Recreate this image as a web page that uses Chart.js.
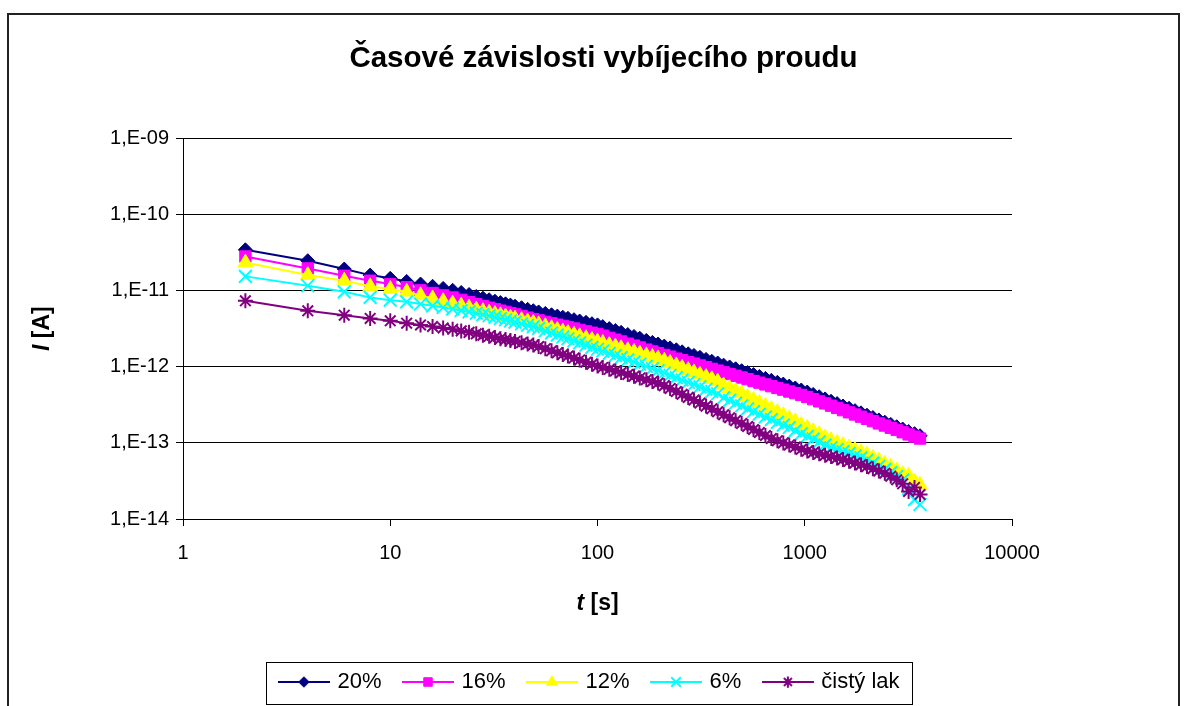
<!DOCTYPE html>
<html>
<head>
<meta charset="utf-8">
<script src="https://cdn.jsdelivr.net/npm/chart.js@4.4.1/dist/chart.umd.min.js"></script>
<style>
    html, body { margin: 0; padding: 0; background: #fff; }
    #wrap { width: 1191px; height: 706px; }
</style>
</head>
<body>
<div id="wrap"><canvas id="chart" width="1191" height="706"></canvas></div>
<script>
const chartTitle = 'Časové závislosti vybíjecího proudu';
const xTitle = ['t', ' [s]'];
const yTitle = ['I', ' [A]'];
const seriesNames = ['20%', '16%', '12%', '6%', 'čistý lak'];

const xTickValues = [1, 10, 100, 1000, 10000];
const xTickLabels = ['1', '10', '100', '1000', '10000'];
const yTickValues = [1e-14, 1e-13, 1e-12, 1e-11, 1e-10, 1e-9];
const yTickLabels = ['1,E-14', '1,E-13', '1,E-12', '1,E-11', '1,E-10', '1,E-09'];

// t [s]
const timeValues = [
    2, 4, 6, 8, 10, 12, 14, 16, 18, 20, 22, 24, 26, 28, 30, 32, 34, 36, 38, 40,
    43, 46, 49, 52, 56, 60, 64, 68, 72, 77, 82, 88, 94, 100,
    106, 114, 122, 130, 140, 150, 160, 172, 184, 196,
    210, 224, 240, 256, 274, 292, 312, 334, 356, 380,
    406, 434, 464, 496, 530, 566, 604, 646, 690, 738,
    788, 842, 900, 962, 1028, 1098, 1174, 1254, 1340, 1432,
    1530, 1636, 1748, 1868, 1996, 2132, 2278, 2434, 2600, 2778,
    2968, 3170, 3386, 3600
];

// I [A]
const current20 = [
    3.44e-11, 2.47e-11, 1.92e-11, 1.60e-11, 1.45e-11, 1.32e-11, 1.22e-11, 1.14e-11, 1.07e-11, 1.01e-11,
    9.46e-12, 8.89e-12, 8.39e-12, 7.96e-12, 7.59e-12, 7.26e-12, 6.97e-12, 6.71e-12, 6.46e-12, 6.25e-12,
    5.96e-12, 5.68e-12, 5.45e-12, 5.25e-12, 5.02e-12, 4.82e-12, 4.63e-12, 4.47e-12, 4.33e-12, 4.15e-12, 3.99e-12, 3.83e-12, 3.68e-12, 3.55e-12,
    3.37e-12, 3.17e-12, 2.99e-12, 2.83e-12, 2.65e-12, 2.50e-12, 2.37e-12, 2.22e-12, 2.09e-12, 1.99e-12,
    1.87e-12, 1.77e-12, 1.67e-12, 1.57e-12, 1.48e-12, 1.41e-12, 1.33e-12, 1.25e-12, 1.18e-12, 1.12e-12,
    1.05e-12, 9.95e-13, 9.40e-13, 8.87e-13, 8.38e-13, 7.89e-13, 7.46e-13, 7.03e-13, 6.64e-13, 6.25e-13,
    5.92e-13, 5.57e-13, 5.26e-13, 4.95e-13, 4.65e-13, 4.33e-13, 4.04e-13, 3.78e-13, 3.52e-13, 3.28e-13,
    3.05e-13, 2.85e-13, 2.65e-13, 2.48e-13, 2.31e-13, 2.15e-13, 2.00e-13, 1.87e-13, 1.75e-13, 1.63e-13,
    1.52e-13, 1.41e-13, 1.32e-13, 1.24e-13
];
const current16 = [
    2.81e-11, 1.96e-11, 1.57e-11, 1.35e-11, 1.22e-11, 1.11e-11, 1.01e-11, 9.31e-12, 8.67e-12, 8.13e-12,
    7.57e-12, 7.06e-12, 6.64e-12, 6.28e-12, 5.96e-12, 5.69e-12, 5.46e-12, 5.25e-12, 5.05e-12, 4.88e-12,
    4.65e-12, 4.42e-12, 4.23e-12, 4.07e-12, 3.89e-12, 3.72e-12, 3.57e-12, 3.44e-12, 3.32e-12, 3.18e-12, 3.05e-12, 2.92e-12, 2.80e-12, 2.69e-12,
    2.56e-12, 2.40e-12, 2.27e-12, 2.15e-12, 2.01e-12, 1.90e-12, 1.79e-12, 1.68e-12, 1.59e-12, 1.51e-12,
    1.43e-12, 1.36e-12, 1.28e-12, 1.22e-12, 1.15e-12, 1.10e-12, 1.04e-12, 9.86e-13, 9.38e-13, 8.91e-13,
    8.45e-13, 8.02e-13, 7.62e-13, 7.23e-13, 6.87e-13, 6.50e-13, 6.18e-13, 5.86e-13, 5.56e-13, 5.26e-13,
    5.00e-13, 4.73e-13, 4.50e-13, 4.26e-13, 4.01e-13, 3.75e-13, 3.51e-13, 3.30e-13, 3.08e-13, 2.88e-13,
    2.69e-13, 2.52e-13, 2.36e-13, 2.21e-13, 2.07e-13, 1.93e-13, 1.80e-13, 1.69e-13, 1.58e-13, 1.48e-13,
    1.38e-13, 1.29e-13, 1.21e-13, 1.14e-13
];
const current12 = [
    2.34e-11, 1.60e-11, 1.35e-11, 1.14e-11, 1.05e-11, 9.64e-12, 8.67e-12, 7.89e-12, 7.28e-12, 6.76e-12,
    6.34e-12, 5.97e-12, 5.65e-12, 5.37e-12, 5.13e-12, 4.92e-12, 4.74e-12, 4.57e-12, 4.42e-12, 4.28e-12,
    4.09e-12, 3.92e-12, 3.77e-12, 3.60e-12, 3.40e-12, 3.21e-12, 3.05e-12, 2.90e-12, 2.78e-12, 2.64e-12, 2.51e-12, 2.37e-12, 2.25e-12, 2.14e-12,
    2.05e-12, 1.93e-12, 1.84e-12, 1.75e-12, 1.65e-12, 1.57e-12, 1.49e-12, 1.41e-12, 1.34e-12, 1.28e-12,
    1.20e-12, 1.12e-12, 1.04e-12, 9.70e-13, 9.02e-13, 8.45e-13, 7.87e-13, 7.33e-13, 6.86e-13, 6.38e-13,
    5.66e-13, 5.22e-13, 4.82e-13, 4.44e-13, 4.01e-13, 3.66e-13, 3.34e-13, 3.05e-13, 2.77e-13, 2.52e-13,
    2.30e-13, 2.09e-13, 1.91e-13, 1.71e-13, 1.57e-13, 1.42e-13, 1.30e-13, 1.18e-13, 1.08e-13, 1.00e-13,
    9.32e-14, 8.69e-14, 8.08e-14, 7.54e-14, 6.99e-14, 6.38e-14, 5.83e-14, 5.32e-14, 4.85e-14, 4.33e-14,
    3.88e-14, 3.70e-14, 3.10e-14, 2.80e-14
];
const current6 = [
    1.54e-11, 1.16e-11, 9.64e-12, 8.15e-12, 7.50e-12, 7.13e-12, 6.68e-12, 6.31e-12, 6.01e-12, 5.75e-12,
    5.48e-12, 5.25e-12, 5.04e-12, 4.84e-12, 4.68e-12, 4.48e-12, 4.30e-12, 4.14e-12, 3.99e-12, 3.85e-12,
    3.67e-12, 3.51e-12, 3.37e-12, 3.19e-12, 2.97e-12, 2.78e-12, 2.61e-12, 2.46e-12, 2.33e-12, 2.19e-12, 2.06e-12, 1.92e-12, 1.80e-12, 1.70e-12,
    1.61e-12, 1.50e-12, 1.40e-12, 1.32e-12, 1.23e-12, 1.15e-12, 1.08e-12, 1.01e-12, 9.44e-13, 8.89e-13,
    8.28e-13, 7.73e-13, 7.19e-13, 6.71e-13, 6.24e-13, 5.85e-13, 5.45e-13, 5.07e-13, 4.74e-13, 4.42e-13,
    3.91e-13, 3.61e-13, 3.33e-13, 3.07e-13, 2.80e-13, 2.58e-13, 2.38e-13, 2.19e-13, 2.02e-13, 1.86e-13,
    1.71e-13, 1.59e-13, 1.45e-13, 1.32e-13, 1.22e-13, 1.12e-13, 1.03e-13, 9.44e-14, 8.64e-14, 8.16e-14,
    7.66e-14, 7.21e-14, 6.75e-14, 6.35e-14, 5.95e-14, 5.42e-14, 4.92e-14, 4.48e-14, 4.06e-14, 3.62e-14,
    3.24e-14, 2.50e-14, 1.80e-14, 1.55e-14
];
const current0 = [
    7.35e-12, 5.43e-12, 4.76e-12, 4.32e-12, 4.01e-12, 3.74e-12, 3.54e-12, 3.38e-12, 3.24e-12, 3.12e-12,
    2.96e-12, 2.83e-12, 2.71e-12, 2.60e-12, 2.51e-12, 2.42e-12, 2.34e-12, 2.28e-12, 2.21e-12, 2.15e-12,
    2.07e-12, 1.99e-12, 1.93e-12, 1.84e-12, 1.73e-12, 1.62e-12, 1.53e-12, 1.45e-12, 1.38e-12, 1.30e-12, 1.23e-12, 1.15e-12, 1.08e-12, 1.02e-12,
    9.79e-13, 9.25e-13, 8.79e-13, 8.38e-13, 7.91e-13, 7.52e-13, 7.14e-13, 6.76e-13, 6.41e-13, 6.12e-13,
    5.65e-13, 5.19e-13, 4.73e-13, 4.34e-13, 3.96e-13, 3.65e-13, 3.33e-13, 3.04e-13, 2.80e-13, 2.56e-13,
    2.34e-13, 2.14e-13, 1.96e-13, 1.80e-13, 1.64e-13, 1.50e-13, 1.37e-13, 1.25e-13, 1.14e-13, 1.07e-13,
    1.00e-13, 9.40e-14, 8.81e-14, 8.24e-14, 7.80e-14, 7.48e-14, 7.18e-14, 6.90e-14, 6.62e-14, 6.34e-14,
    6.07e-14, 5.75e-14, 5.45e-14, 5.18e-14, 4.91e-14, 4.58e-14, 4.28e-14, 4.00e-14, 3.65e-14, 3.27e-14,
    2.90e-14, 2.30e-14, 2.60e-14, 2.10e-14
];
const seriesValues = [current20, current16, current12, current6, current0];

// Excel-like look of each series
const colors = ['#000080', '#FF00FF', '#FFFF00', '#00FFFF', '#800080'];
const markers = ['rectRot', 'rect', 'triangle', 'crossRot', 'star'];
const markerRadius = [7, 8, 8.5, 9, 7.5];
const markerBorder = [1, 1, 1, 2, 2];

const FONT = '"Liberation Sans", Arial, sans-serif';

// legend symbol: a short line with the marker in the middle
function legendSymbol(i) {
    const c = document.createElement('canvas');
    c.width = 52;
    c.height = 20;
    const g = c.getContext('2d');
    g.strokeStyle = colors[i];
    g.fillStyle = colors[i];
    g.lineWidth = 2;
    g.beginPath();
    g.moveTo(0, 10);
    g.lineTo(52, 10);
    g.stroke();
    g.lineWidth = markerBorder[i];
    Chart.helpers.drawPoint(g, {
        pointStyle: markers[i],
        radius: markerRadius[i] * 0.75,
        borderWidth: markerBorder[i],
        rotation: 0
    }, 26, 10);
    return c;
}
const legendImages = seriesNames.map((_, i) => legendSymbol(i));

function drawMixedText(ctx, parts, fonts, x, y) {
    let total = 0;
    const widths = parts.map((p, i) => {
        ctx.font = fonts[i];
        const w = ctx.measureText(p).width;
        total += w;
        return w;
    });
    let cx = x - total / 2;
    parts.forEach((p, i) => {
        ctx.font = fonts[i];
        ctx.fillText(p, cx, y);
        cx += widths[i];
    });
}

const excelFrame = {
    id: 'excelFrame',
    afterLayout(chart) {
        // the Excel legend sits a little left of the title's centre
        chart.legend.left -= 26;
    },
    beforeDraw(chart) {
        const ctx = chart.ctx;
        ctx.save();
        ctx.fillStyle = '#fff';
        ctx.fillRect(0, 0, chart.width, chart.height);
        ctx.strokeStyle = '#222';
        ctx.lineWidth = 2;
        ctx.strokeRect(8, 14, 1171, chart.height + 20);
        ctx.restore();
    },
    afterDraw(chart) {
        const ctx = chart.ctx;
        const area = chart.chartArea;
        ctx.save();

        // legend frame
        const boxes = chart.legend.legendHitBoxes;
        if (boxes && boxes.length) {
            const first = boxes[0];
            const last = boxes[boxes.length - 1];
            const cy = first.top + 11;
            const left = Math.round(first.left - 15) + 0.5;
            const right = Math.round(last.left + last.width + 12) + 0.5;
            ctx.strokeStyle = '#000';
            ctx.lineWidth = 1;
            ctx.strokeRect(left, Math.round(cy - 20) + 0.5, right - left, 42);
        }

        // axis titles
        ctx.fillStyle = '#000';
        ctx.textBaseline = 'middle';
        const fonts = ['italic bold 23px ' + FONT, 'bold 23px ' + FONT];
        drawMixedText(ctx, xTitle, fonts, (area.left + area.right) / 2, 604);

        ctx.translate(43, (area.top + area.bottom) / 2);
        ctx.rotate(-Math.PI / 2);
        drawMixedText(ctx, yTitle, fonts, 0, 0);
        ctx.restore();
    }
};

const datasets = seriesNames.map((name, i) => ({
    label: name,
    data: timeValues.map((t, k) => ({x: t, y: seriesValues[i][k]})),
    borderColor: colors[i],
    backgroundColor: colors[i],
    borderWidth: 2,
    pointStyle: markers[i],
    pointRadius: markerRadius[i],
    pointBorderWidth: markerBorder[i],
    pointBackgroundColor: colors[i],
    pointBorderColor: colors[i],
    tension: 0,
    fill: false,
    // Excel draws the last series on top
    order: seriesNames.length - 1 - i
}));

new Chart(document.getElementById('chart'), {
    type: 'line',
    data: {datasets},
    plugins: [excelFrame],
    options: {
        responsive: false,
        devicePixelRatio: 1,
        animation: false,
        events: [],
        layout: {
            padding: {left: 16, right: 0, top: 0, bottom: 3}
        },
        plugins: {
            title: {
                display: true,
                text: chartTitle,
                color: '#000',
                font: {family: FONT, size: 29.5, weight: 'bold'},
                padding: {top: 41, bottom: 62}
            },
            legend: {
                display: true,
                position: 'bottom',
                labels: {
                    color: '#000',
                    font: {family: FONT, size: 22},
                    usePointStyle: true,
                    pointStyleWidth: 45,
                    padding: 24,
                    sort: (a, b) => a.datasetIndex - b.datasetIndex,
                    generateLabels: chart => {
                        const items = Chart.defaults.plugins.legend.labels.generateLabels(chart);
                        return items.map(item => Object.assign(item, {pointStyle: legendImages[item.datasetIndex]}));
                    }
                }
            },
            tooltip: {enabled: false}
        },
        scales: {
            x: {
                type: 'logarithmic',
                min: 1,
                max: 10000,
                afterBuildTicks: s => { s.ticks = xTickValues.map(v => ({value: v})); },
                afterFit: s => { s.height = 128; },
                ticks: {
                    callback: (v, i) => xTickLabels[i],
                    color: '#000',
                    font: {family: FONT, size: 20},
                    padding: 15,
                    maxRotation: 0,
                    autoSkip: false
                },
                grid: {drawOnChartArea: false, drawTicks: true, tickLength: 7, color: '#000'},
                border: {color: '#000', width: 1}
            },
            y: {
                type: 'logarithmic',
                min: 1e-14,
                max: 1e-9,
                afterBuildTicks: s => { s.ticks = yTickValues.map(v => ({value: v})); },
                afterFit: s => { s.width = 167; },
                ticks: {
                    callback: (v, i) => yTickLabels[i],
                    color: '#000',
                    font: {family: FONT, size: 20},
                    padding: 7,
                    autoSkip: false
                },
                grid: {color: '#000', tickLength: 7, drawTicks: true},
                border: {color: '#000', width: 1}
            },
            // empty right-hand box: keeps the plot area the same width as in Excel
            yRight: {
                type: 'linear',
                position: 'right',
                grid: {display: false},
                ticks: {display: false},
                border: {display: false},
                afterFit: s => { s.width = 179; }
            }
        }
    }
});
</script>
</body>
</html>
